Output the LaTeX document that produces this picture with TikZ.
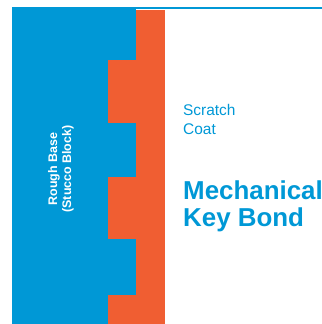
\documentclass[tikz,border=0pt]{standalone}
\usepackage{fontspec}
\setmainfont{Liberation Sans}
\usetikzlibrary{positioning}
\definecolor{keyblue}{RGB}{0,152,214}
\definecolor{keyorange}{RGB}{240,94,50}

\begin{document}
\begin{tikzpicture}[x=1bp, y=-1bp,
		layertext/.style={white, font=\bfseries\fontsize{12.5}{14}\selectfont, align=center, inner sep=0pt},
		coattext/.style={keyblue, font=\fontsize{15.5}{19}\selectfont, align=left, inner sep=0pt},
		bondtext/.style={keyblue, font=\bfseries\fontsize{26}{27}\selectfont, align=left, inner sep=0pt}]
		\useasboundingbox (0,0) rectangle (322,324);
		\clip (0,0) rectangle (322,324);
		
		% scratch coat
		\fill [keyorange] (108,10) rectangle (165,324);
		% rough base and its keys
		\fill [keyblue] (12,8) rectangle (108,324);
		\foreach \a/\b in {8/60, 123/177, 239/295}{
			\fill [keyblue] (107.5,\a) rectangle (136,\b);
		}
		\draw [keyblue, line width=1.2bp] (12,8)--(322,8);
		
		\node [layertext, rotate=90] (base) at (61,169) {Rough Base\\(Stucco Block)};
		\node [coattext, anchor=north west] (scratch) at (183,104) {Scratch\\Coat};
		\node [bondtext, below right=46bp and 0bp of scratch.south west] (bond) {Mechanical\\Key Bond};
	\end{tikzpicture}
\end{document}
